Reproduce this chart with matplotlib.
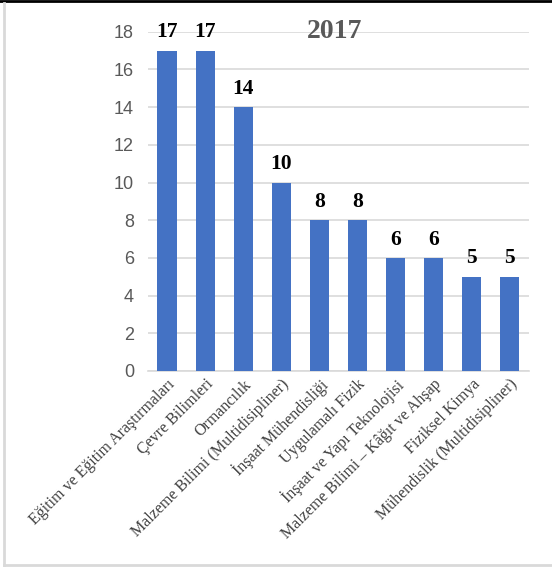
import matplotlib
matplotlib.use("Agg")
import matplotlib.pyplot as plt
from matplotlib.lines import Line2D

# subject areas and publication counts
categories = [
    "Eğitim ve Eğitim Araştırmaları",
    "Çevre Bilimleri",
    "Ormancılık",
    "Malzeme Bilimi (Multidisipliner)",
    "İnşaat Mühendisliği",
    "Uygulamalı Fizik",
    "İnşaat ve Yapı Teknolojisi",
    "Malzeme Bilimi – Kâğıt ve Ahşap",
    "Fiziksel Kimya",
    "Mühendislik (Multidisipliner)",
]
counts = [17, 17, 14, 10, 8, 8, 6, 6, 5, 5]
yticks = [0, 2, 4, 6, 8, 10, 12, 14, 16, 18]
title = "2017"

bar_color = "#4472C4"
grid_color = "#D9D9D9"
text_gray = "#595959"

fig = plt.figure(figsize=(5.52, 5.68), dpi=100)
ax = fig.add_axes([0.268, 0.347, 0.690, 0.597])

x = range(len(categories))
ax.bar(x, counts, width=0.5, color=bar_color, zorder=3)

for xi, v in zip(x, counts):
    ax.annotate(str(v), (xi, v), xytext=(0, 6), textcoords="offset points",
                ha="center", va="bottom", fontsize=15.5, fontweight="bold",
                family="Liberation Serif", color="black")

ax.set_ylim(0, 18)
ax.set_xlim(-0.5, len(categories) - 0.5)
ax.set_yticks(yticks)
ax.set_yticklabels([str(t) for t in yticks], family="Liberation Sans",
                   fontsize=13, color=text_gray)
ax.yaxis.grid(True, color=grid_color, linewidth=1.2, zorder=0)
ax.tick_params(axis="y", length=0, pad=10)
ax.tick_params(axis="x", length=0, pad=4)

ax.set_xticks(list(x))
ax.set_xticklabels(categories, rotation=45, ha="right", va="top",
                   rotation_mode="anchor", family="Liberation Serif",
                   fontsize=11.5, color="#404040")

for s in ["top", "right", "left"]:
    ax.spines[s].set_visible(False)
ax.spines["bottom"].set_color(grid_color)
ax.spines["bottom"].set_linewidth(1.2)

ax.text(0.49, 1.0, title, transform=ax.transAxes, ha="center", va="center",
        fontsize=20, fontweight="bold", family="Liberation Serif",
        color=text_gray)

# frame around the chart
fig.add_artist(Line2D([0, 1], [0.998, 0.998], transform=fig.transFigure,
                      color="black", linewidth=2))
fig.add_artist(Line2D([0.0075, 0.0075], [0.005, 0.994],
                      transform=fig.transFigure, color="#D9D9D9", linewidth=2))
fig.add_artist(Line2D([0.0075, 1], [0.005, 0.005],
                      transform=fig.transFigure, color="#D9D9D9", linewidth=2))

fig.savefig("out.png", dpi=100)
